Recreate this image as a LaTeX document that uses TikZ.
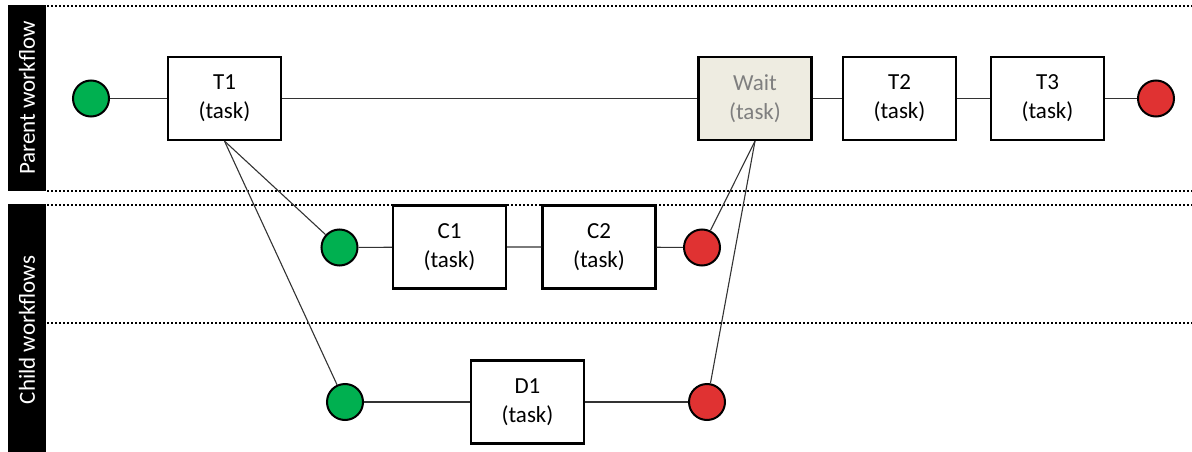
\documentclass[tikz,border=0pt]{standalone}
\usepackage{fontspec}
\setsansfont{Carlito}
\renewcommand{\familydefault}{\sfdefault}
\definecolor{startgreen}{HTML}{00B050}
\definecolor{endred}{HTML}{E03232}
\definecolor{waitfill}{HTML}{EEECE1}
\definecolor{waitgray}{HTML}{7F7F7F}

\begin{document}
\begin{tikzpicture}[x=1pt, y=-1pt,
  task/.style={draw, line width=2.2pt, minimum width=113pt, minimum height=83pt,
    inner sep=0pt, align=center, font=\fontsize{23}{29}\selectfont},
  waittask/.style={task, fill=waitfill, text=waitgray},
  startev/.style={circle, draw, line width=2pt, fill=startgreen,
    minimum size=36pt, inner sep=0pt},
  endev/.style={startev, fill=endred},
  link/.style={line width=1.1pt, black!80},
  lane/.style={line width=2.8pt, dash pattern=on 2.2pt off 1.8pt},
  lanelabel/.style={rotate=90, text=white, font=\fontsize{23}{26}\selectfont}]

\useasboundingbox (0,0) rectangle (1192,452);

% lanes
\fill (8,5) rectangle (46,191);
\fill (8,204) rectangle (46,452);
\node[lanelabel] (parentlabel) at (27,98) {Parent workflow};
\node[lanelabel] (childlabel) at (27,330) {Child workflows};
\draw[lane] (47,6) -- (1192,6);
\draw[lane] (47,191) -- (1192,191);
\draw[lane] (47,205) -- (1192,205);
\draw[lane] (47,323) -- (1192,323);

% parent workflow
\node[startev] (ps) at (91,98.5) {};
\node[task] (t1) at (224.5,98.5) {T1\\(task)};
\node[waittask] (wait) at (755,98.5) {Wait\\(task)};
\node[task] (t2) at (899.5,98.5) {T2\\(task)};
\node[task] (t3) at (1047.5,98.5) {T3\\(task)};
\node[endev] (pe) at (1156,98.5) {};

% child workflows
\node[startev] (cs) at (339.5,247.5) {};
\node[task] (c1) at (449.5,247) {C1\\(task)};
\node[task] (c2) at (599,247) {C2\\(task)};
\node[endev] (ce) at (702,247.5) {};

\node[startev] (ds) at (345,402) {};
\node[task] (d1) at (527.5,402) {D1\\(task)};
\node[endev] (de) at (707,402) {};

% connectors
\draw[link] (ps) -- (t1) -- (wait) -- (t2) -- (t3) -- (pe);
\draw[link] (cs) -- (c1) -- (c2) -- (ce);
\draw[link] (ds) -- (d1) -- (de);
\draw[link] (t1.south) -- (cs);
\draw[link] (t1.south) -- (ds);
\draw[link] (wait.south) -- (ce);
\draw[link] (wait.south) -- (de);

\end{tikzpicture}
\end{document}
